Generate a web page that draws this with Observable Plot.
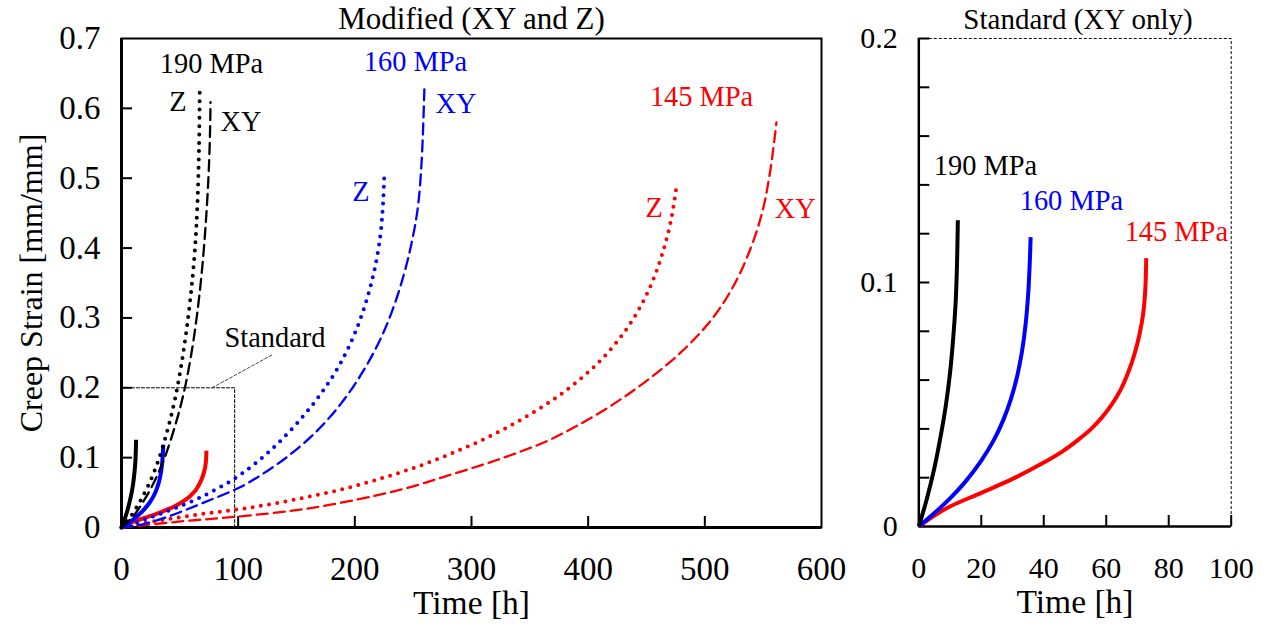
<!DOCTYPE html>
<html>
<head>
<meta charset="utf-8">
<script src="https://cdn.jsdelivr.net/npm/d3@7"></script>
<script src="https://cdn.jsdelivr.net/npm/@observablehq/plot@0.6"></script>
<style>
  html, body { margin: 0; padding: 0; background: #fff; }
  #chart { position: relative; width: 1270px; height: 630px; overflow: hidden;
           font-family: "Liberation Serif", "Times New Roman", serif; }
  #chart > svg { position: absolute; top: 0; }
</style>
</head>
<body>
<div id="chart"></div>
<script>
// ---------- data: creep curves, [time h, strain mm/mm] ----------
// Modified scan strategy, loaded in Z direction (dotted)
const mod190Z = [[0,0],[8,0.016],[16,0.038],[24,0.064],[32,0.098],[40,0.143],[46,0.185],[51,0.23],[55.5,0.28],[59.5,0.335],[62.8,0.395],[65,0.46],[66.4,0.54],[67.1,0.63]];
const mod160Z = [[0,0],[10,0.006],[25,0.0145],[45,0.027],[70,0.045],[95,0.068],[115,0.092],[135,0.122],[155,0.158],[172,0.194],[187,0.233],[200,0.278],[210,0.325],[217,0.37],[222,0.42],[224.2,0.465],[225.4,0.511]];
const mod145Z = [[0,0],[10,0.004],[40,0.012],[70,0.0195],[100,0.026],[130,0.034],[160,0.044],[190,0.055],[220,0.069],[250,0.085],[280,0.104],[310,0.126],[340,0.152],[370,0.183],[395,0.215],[415,0.247],[432,0.282],[446,0.32],[457,0.36],[465,0.4],[471,0.44],[475.4,0.485]];
// Modified scan strategy, loaded in XY direction (dashed)
const mod190XY = [[0,0],[10,0.016],[19,0.038],[28,0.065],[37,0.1],[46,0.146],[53,0.19],[59,0.24],[64,0.295],[68.5,0.36],[72,0.43],[74.5,0.5],[75.8,0.56],[76.3,0.609]];
const mod160XY = [[0,0],[19,0.005],[39,0.015],[68,0.034],[102,0.058],[125,0.081],[145,0.105],[168,0.139],[188,0.177],[205,0.218],[220,0.263],[232,0.31],[242,0.362],[249,0.41],[254,0.458],[257.3,0.525],[259.7,0.633]];
const mod145XY = [[0,0],[53,0.009],[102,0.016],[159,0.027],[216,0.045],[250,0.059],[279,0.074],[308,0.089],[336,0.105],[365,0.124],[393,0.148],[422,0.177],[450,0.21],[479,0.25],[503,0.292],[522,0.338],[537,0.39],[549,0.45],[556,0.51],[561.4,0.58]];
// Standard scan strategy, XY only (solid)
const std190 = [[0,0],[2.5,0.011],[5,0.024],[7,0.037],[8.7,0.05],[10,0.063],[11,0.077],[11.8,0.092],[12.2,0.106],[12.5,0.1255]];
const std160 = [[0,0],[5,0.0055],[10,0.0115],[15,0.0185],[20,0.027],[24,0.0354],[27,0.0435],[29.5,0.0523],[31.5,0.0617],[33,0.0715],[34.2,0.083],[35,0.095],[35.5,0.1075],[35.8,0.1186]];
const std145 = [[0,0],[5,0.0045],[10,0.0082],[20,0.0138],[30,0.0195],[40,0.0262],[46,0.0308],[51,0.0355],[55,0.0398],[58.5,0.0445],[61.5,0.0495],[64.5,0.0558],[67,0.063],[69,0.0705],[70.6,0.0785],[71.8,0.087],[72.5,0.097],[72.8,0.11]];

const stressColors = ["#000000", "#0000ff", "#ff0000"]; // 190, 160, 145 MPa

// axis ticks
const modTimeTicks = [0, 100, 200, 300, 400, 500, 600];
const modStrainTicks = [0, 0.1, 0.2, 0.3, 0.4, 0.5, 0.6, 0.7];
const stdTimeTicks = [0, 20, 40, 60, 80, 100];
const stdStrainTicks = [0, 0.1, 0.2];
const stdStrainMinor = [0.02, 0.04, 0.06, 0.08, 0.1, 0.12, 0.14, 0.16, 0.18, 0.2];

// zoom box marking the extent of the standard panel, and its callout
const stdBox = [[0, 0.2], [97, 0.2], [97, 0]];
const stdCallout = [[77.7, 0.2], [130, 0.248]];

// text annotations (anchored at the start of the text baseline)
const modLabels = [
  {t: 32.8, s: 0.650, text: "190 MPa", color: "#000000"},
  {t: 41.0, s: 0.596, text: "Z", color: "#000000"},
  {t: 84.9, s: 0.568, text: "XY", color: "#000000"},
  {t: 207.7, s: 0.653, text: "160 MPa", color: "#0000ff"},
  {t: 269.1, s: 0.594, text: "XY", color: "#0000ff"},
  {t: 197.7, s: 0.467, text: "Z", color: "#0000ff"},
  {t: 452.9, s: 0.604, text: "145 MPa", color: "#ff0000"},
  {t: 449.1, s: 0.445, text: "Z", color: "#ff0000"},
  {t: 560.0, s: 0.443, text: "XY", color: "#ff0000"},
  {t: 88.3, s: 0.258, text: "Standard", color: "#000000"}
];
const stdLabels = [
  {t: 4.8, s: 0.1442, text: "190 MPa", color: "#000000"},
  {t: 32.3, s: 0.1299, text: "160 MPa", color: "#0000ff"},
  {t: 65.9, s: 0.1172, text: "145 MPa", color: "#ff0000"}
];

// ---------- helpers ----------
const rows = (pairs) => pairs.map(([t, s]) => ({t, s}));
const FONT = "Liberation Serif, Times New Roman, serif";
const fmt = d => `${d}`;

const dotted = {strokeWidth: 4, strokeDasharray: "0,8.3", strokeLinecap: "round"};
const dashed = {strokeWidth: 2.3, strokeDasharray: "11,6"};
const solid = {strokeWidth: 4, strokeLinecap: "butt"};

function curve(pairs, color, style) {
  return Plot.line(rows(pairs), {x: "t", y: "s", stroke: color, curve: "catmull-rom", ...style});
}

// ---------- left panel: modified (XY and Z) ----------
const L = {width: 850, height: 630, ml: 121, mr: 29, mt: 38, mb: 103};
const LpW = L.width - L.ml - L.mr, LpH = L.height - L.mt - L.mb;

const left = Plot.plot({
  width: L.width, height: L.height,
  marginLeft: L.ml, marginRight: L.mr, marginTop: L.mt, marginBottom: L.mb,
  style: {fontFamily: FONT, fontSize: "33px", background: "transparent", overflow: "visible"},
  x: {domain: [0, 600], label: null},
  y: {domain: [0, 0.7], label: null},
  color: {type: "identity"},
  marks: [
    Plot.frame({stroke: "#000", strokeWidth: 2}),
    Plot.tickY(modStrainTicks.slice(1, -1), {y: d => d, insetRight: LpW - 11, strokeWidth: 2}),
    Plot.tickX(modTimeTicks.slice(1, -1), {x: d => d, insetTop: LpH - 11, strokeWidth: 2}),
    Plot.ruleX([0], {strokeWidth: 3}),
    Plot.ruleY([0], {strokeWidth: 3}),
    Plot.axisY(modStrainTicks, {tickSize: 0, tickPadding: 21, fontSize: 33, tickFormat: fmt, label: null}),
    Plot.axisX(modTimeTicks, {tickSize: 0, tickPadding: 29, fontSize: 33, tickFormat: fmt, label: null}),
    // zoom box and callout
    Plot.line(rows(stdBox), {x: "t", y: "s", stroke: "#000", strokeWidth: 1, strokeDasharray: "3,2"}),
    Plot.line(rows(stdCallout), {x: "t", y: "s", stroke: "#444", strokeWidth: 1, strokeDasharray: "3,2"}),
    // standard curves
    curve(std145, stressColors[2], solid),
    curve(std160, stressColors[1], solid),
    curve(std190, stressColors[0], solid),
    // modified curves
    curve(mod145XY, stressColors[2], dashed),
    curve(mod145Z, stressColors[2], dotted),
    curve(mod160XY, stressColors[1], dashed),
    curve(mod160Z, stressColors[1], dotted),
    curve(mod190XY, stressColors[0], dashed),
    curve(mod190Z, stressColors[0], dotted),
    Plot.text(modLabels, {x: "t", y: "s", text: "text", fill: "color", textAnchor: "start", lineAnchor: "bottom", fontSize: 28.4}),
    // titles
    Plot.text(["Modified (XY and Z)"], {frameAnchor: "top", dy: -10, lineAnchor: "bottom", fontSize: 31}),
    Plot.text(["Time [h]"], {frameAnchor: "bottom", dy: 86, lineAnchor: "bottom", fontSize: 33.5}),
    Plot.text(["Creep Strain [mm/mm]"], {frameAnchor: "left", textAnchor: "middle", dx: -90, rotate: -90, fontSize: 32})
  ]
});

// ---------- right panel: standard (XY only) ----------
const R = {width: 420, height: 630, ml: 68.3, mr: 39.3, mt: 38, mb: 104};
const RpW = R.width - R.ml - R.mr, RpH = R.height - R.mt - R.mb;

const right = Plot.plot({
  width: R.width, height: R.height,
  marginLeft: R.ml, marginRight: R.mr, marginTop: R.mt, marginBottom: R.mb,
  style: {fontFamily: FONT, fontSize: "30px", background: "transparent", overflow: "visible"},
  x: {domain: [0, 100], label: null},
  y: {domain: [0, 0.2], label: null},
  color: {type: "identity"},
  marks: [
    Plot.frame({stroke: "#000", strokeWidth: 1, strokeDasharray: "3,2"}),
    Plot.tickY(stdStrainMinor, {y: d => d, insetRight: RpW - 11, strokeWidth: 2}),
    Plot.tickX(stdTimeTicks.slice(1), {x: d => d, insetTop: RpH - 11, strokeWidth: 2}),
    Plot.ruleX([0], {strokeWidth: 2.5}),
    Plot.ruleY([0], {strokeWidth: 2.5}),
    Plot.axisY(stdStrainTicks, {tickSize: 0, tickPadding: 21, fontSize: 30, tickFormat: fmt, label: null}),
    Plot.axisX(stdTimeTicks, {tickSize: 0, tickPadding: 30, fontSize: 30, tickFormat: fmt, label: null}),
    curve(std145, stressColors[2], solid),
    curve(std160, stressColors[1], solid),
    curve(std190, stressColors[0], solid),
    Plot.text(stdLabels, {x: "t", y: "s", text: "text", fill: "color", textAnchor: "start", lineAnchor: "bottom", fontSize: 28.4}),
    Plot.text(["Standard (XY only)"], {frameAnchor: "top", dx: 3, dy: -10, lineAnchor: "bottom", fontSize: 29}),
    Plot.text(["Time [h]"], {frameAnchor: "bottom", dy: 86, lineAnchor: "bottom", fontSize: 33.5})
  ]
});

const chart = document.getElementById("chart");
left.style.left = "0px";
right.style.left = L.width + "px";
chart.appendChild(left);
chart.appendChild(right);
</script>
</body>
</html>
